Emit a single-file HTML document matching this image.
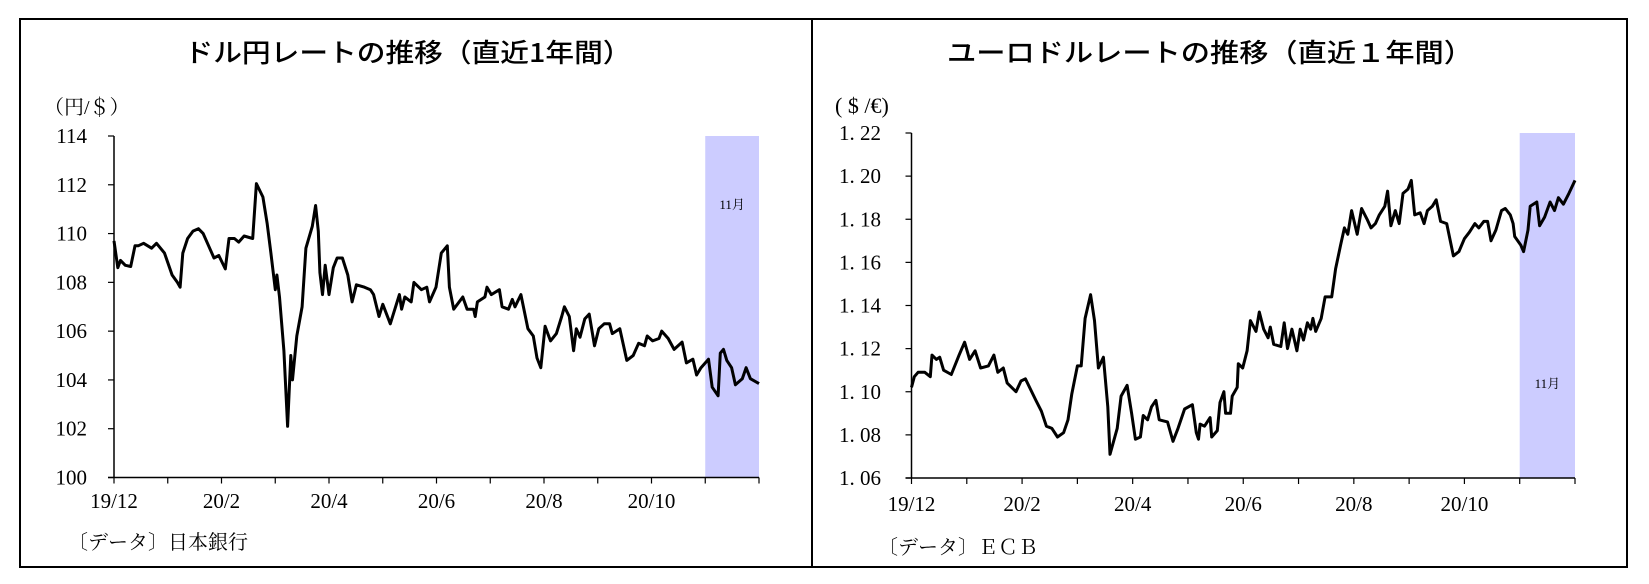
<!DOCTYPE html>
<html><head><meta charset="utf-8"><style>
html,body{margin:0;padding:0;background:#fff}
svg{display:block}
.t{font-family:"Noto Sans CJK JP","Liberation Sans",sans-serif;font-weight:500;font-size:26px;fill:#000}
.s{font-family:"Liberation Serif","Noto Serif CJK SC",serif;fill:#000}
</style></head><body>
<svg id="svg" width="1649" height="584" viewBox="0 0 1649 584" xmlns="http://www.w3.org/2000/svg">
<rect x="20" y="19" width="1607" height="548" fill="#fff" stroke="#000" stroke-width="2"/>
<line x1="812" y1="19" x2="812" y2="567" stroke="#000" stroke-width="2"/>
<text class="t" x="408" y="62" text-anchor="middle" textLength="447" lengthAdjust="spacingAndGlyphs">ドル円レートの推移（直近1年間）</text>
<text class="t" x="1210" y="62" text-anchor="middle" textLength="526" lengthAdjust="spacingAndGlyphs">ユーロドルレートの推移（直近１年間）</text>
<text class="s" x="44" y="114" font-size="20">（円/＄）</text>
<text class="s" x="835" y="113" font-size="22">( $ /€)</text>
<text class="s" x="68" y="549" font-size="20">〔データ〕日本銀行</text>
<text class="s" x="878" y="554" font-size="20">〔データ〕ＥＣＢ</text>
<g id="left"></g>
<g id="right"></g>
</svg>
<script>
const monthLabels = ["19/12","","20/2","","20/4","","20/6","","20/8","","20/10","",""];
const jpyYTicks = [100,102,104,106,108,110,112,114];
const jpyYLabels = ["100","102","104","106","108","110","112","114"];
const eurYTicks = [1.06,1.08,1.10,1.12,1.14,1.16,1.18,1.20,1.22];
const eurYLabels = ["1. 06","1. 08","1. 10","1. 12","1. 14","1. 16","1. 18","1. 20","1. 22"];
const novStart = 11, novEnd = 12;
const jpyX = [0,.07,.12,.21,.31,.39,.45,.55,.70,.79,.94,1.08,1.18,1.23,1.28,1.37,1.47,1.57,1.66,1.76,1.86,1.95,2.07,2.14,2.24,2.32,2.42,2.58,2.65,2.77,2.85,2.92,3.00,3.03,3.08,3.16,3.23,3.29,3.32,3.40,3.50,3.57,3.69,3.75,3.80,3.83,3.88,3.93,4.00,4.08,4.15,4.25,4.35,4.43,4.51,4.66,4.77,4.83,4.93,5.00,5.14,5.31,5.35,5.41,5.53,5.58,5.72,5.82,5.87,5.99,6.09,6.20,6.24,6.32,6.49,6.57,6.69,6.72,6.76,6.90,6.94,7.02,7.17,7.22,7.34,7.41,7.46,7.57,7.70,7.80,7.87,7.94,8.02,8.12,8.23,8.33,8.38,8.47,8.55,8.60,8.67,8.76,8.84,8.94,9.02,9.12,9.22,9.27,9.41,9.54,9.66,9.76,9.87,9.92,10.02,10.14,10.19,10.31,10.42,10.57,10.65,10.77,10.84,10.92,11.06,11.13,11.24,11.28,11.34,11.40,11.49,11.56,11.69,11.76,11.84,12.0];
const jpyY = [109.7,108.6,108.9,108.7,108.65,109.5,109.5,109.6,109.4,109.6,109.2,108.3,108.0,107.8,109.2,109.8,110.1,110.2,110.0,109.5,109.0,109.1,108.55,109.8,109.8,109.65,109.9,109.8,112.05,111.5,110.4,109.2,107.7,108.3,107.4,105.2,102.1,105.0,104.0,105.8,107.0,109.4,110.3,111.15,110.1,108.4,107.5,108.7,107.5,108.6,109.0,109.0,108.3,107.2,107.9,107.8,107.7,107.5,106.6,107.1,106.3,107.5,106.9,107.4,107.2,108.0,107.7,107.8,107.2,107.8,109.2,109.5,107.8,106.9,107.4,106.9,106.9,106.6,107.2,107.4,107.8,107.5,107.7,107.0,106.9,107.3,107.0,107.5,106.1,105.8,104.9,104.5,106.2,105.6,105.9,106.6,107.0,106.6,105.2,106.1,105.75,106.5,106.7,105.4,106.1,106.3,106.3,105.9,106.1,104.8,105.0,105.5,105.4,105.8,105.6,105.7,106.0,105.7,105.25,105.55,104.7,104.85,104.2,104.5,104.85,103.7,103.35,105.1,105.25,104.8,104.5,103.8,104.05,104.5,104.05,103.85];
const eurX = [0,.05,.12,.24,.34,.37,.45,.51,.58,.72,.86,.96,1.05,1.15,1.25,1.39,1.49,1.56,1.66,1.73,1.89,1.98,2.06,2.25,2.35,2.44,2.54,2.64,2.75,2.83,2.90,3.00,3.07,3.14,3.24,3.31,3.38,3.47,3.55,3.59,3.72,3.79,3.90,3.98,4.05,4.14,4.19,4.27,4.34,4.42,4.48,4.63,4.73,4.82,4.94,5.08,5.15,5.19,5.22,5.30,5.40,5.43,5.53,5.58,5.65,5.68,5.77,5.80,5.89,5.91,5.99,6.07,6.13,6.23,6.29,6.37,6.45,6.49,6.55,6.68,6.74,6.80,6.88,6.97,7.03,7.09,7.16,7.22,7.26,7.31,7.41,7.48,7.60,7.67,7.76,7.83,7.89,7.96,8.06,8.14,8.24,8.31,8.39,8.46,8.56,8.61,8.67,8.75,8.82,8.89,8.98,9.04,9.10,9.20,9.27,9.33,9.42,9.49,9.57,9.68,9.80,9.90,10.00,10.09,10.19,10.26,10.35,10.42,10.48,10.57,10.67,10.74,10.83,10.88,10.91,11.02,11.07,11.15,11.19,11.31,11.36,11.45,11.55,11.63,11.70,11.79,11.89,12];
const eurY = [1.102,1.107,1.109,1.109,1.107,1.117,1.115,1.116,1.110,1.108,1.117,1.123,1.115,1.119,1.111,1.112,1.117,1.109,1.111,1.104,1.100,1.105,1.106,1.096,1.091,1.084,1.083,1.079,1.081,1.087,1.099,1.112,1.112,1.134,1.145,1.133,1.111,1.116,1.093,1.071,1.083,1.098,1.103,1.090,1.078,1.079,1.089,1.087,1.093,1.096,1.087,1.086,1.077,1.083,1.092,1.094,1.081,1.078,1.085,1.084,1.088,1.079,1.082,1.095,1.100,1.090,1.090,1.098,1.102,1.113,1.111,1.119,1.133,1.128,1.137,1.129,1.125,1.130,1.122,1.121,1.132,1.120,1.129,1.119,1.129,1.124,1.132,1.129,1.134,1.128,1.134,1.144,1.144,1.157,1.168,1.176,1.173,1.184,1.173,1.185,1.180,1.176,1.178,1.182,1.186,1.193,1.177,1.184,1.178,1.192,1.194,1.198,1.182,1.183,1.178,1.184,1.186,1.189,1.179,1.178,1.163,1.165,1.171,1.174,1.178,1.176,1.179,1.179,1.170,1.175,1.184,1.185,1.182,1.178,1.172,1.168,1.165,1.175,1.186,1.188,1.177,1.181,1.188,1.184,1.190,1.187,1.192,1.198];

const NS="http://www.w3.org/2000/svg";
function mk(tag, attrs, parent){const e=document.createElementNS(NS,tag);for(const k in attrs)e.setAttribute(k,attrs[k]);parent.appendChild(e);return e;}

function drawChart(g, cfg, xs, ys, yTicks, yLabels, prefix){
  const sx = m => cfg.x0 + (m/12)*(cfg.x1-cfg.x0);
  const sy = v => cfg.yb - (v-cfg.ymin)/(cfg.ymax-cfg.ymin)*(cfg.yb-cfg.yt);
  const sh = mk('rect',{x:sx(novStart),y:cfg.yt,width:sx(novEnd)-sx(novStart),height:cfg.yb-cfg.yt,fill:'#ccccff'},g);
  
  
  const nl = mk('text',{x:sx(11.5),y:cfg.novY,'text-anchor':'middle','font-size':13,'class':'s',fill:'#000'},g);
  nl.textContent='11月';
  
  
  const ya = mk('line',{x1:cfg.x0,y1:cfg.yt,x2:cfg.x0,y2:cfg.yb,stroke:'#000','stroke-width':1.5},g);
  
  
  const xa = mk('line',{x1:cfg.x0-6,y1:cfg.yb,x2:cfg.x1,y2:cfg.yb,stroke:'#000','stroke-width':1.5},g);
  
  
  yTicks.forEach((v,i)=>{
    const y=sy(v);
    const t=mk('line',{x1:cfg.x0-6,y1:y,x2:cfg.x0,y2:y,stroke:'#000','stroke-width':1.2},g);
    
    
    const l=mk('text',{x:cfg.labX,y:y+7,'text-anchor':'end','font-size':cfg.yfs,'class':'s'},g);
    l.textContent=yLabels[i];
    
    
  });
  for(let m=0;m<=12;m++){
    const x=sx(m);
    const t=mk('line',{x1:x,y1:cfg.yb,x2:x,y2:cfg.yb+6,stroke:'#000','stroke-width':1.2},g);
    
    
    if(monthLabels[m]){
      const l=mk('text',{x:x,y:cfg.xlY,'text-anchor':'middle','font-size':21,'class':'s'},g);
      l.textContent=monthLabels[m];
      
      
    }
  }
  const pts = xs.map((m,i)=>sx(m).toFixed(1)+','+sy(ys[i]).toFixed(1)).join(' ');
  const pl = mk('polyline',{points:pts,fill:'none',stroke:'#000','stroke-width':3,'stroke-linejoin':'round'},g);
  
  
}
drawChart(document.getElementById('left'),
  {x0:114,x1:759,yt:136,yb:477.5,ymin:100,ymax:114,labX:87,yfs:21,xlY:508,novY:209},
  jpyX,jpyY,jpyYTicks,jpyYLabels,'usdjpy');
drawChart(document.getElementById('right'),
  {x0:911.5,x1:1575,yt:133,yb:478,ymin:1.06,ymax:1.22,labX:881,yfs:21,xlY:511,novY:388},
  eurX,eurY,eurYTicks,eurYLabels,'eurusd');
</script>
</body></html>
